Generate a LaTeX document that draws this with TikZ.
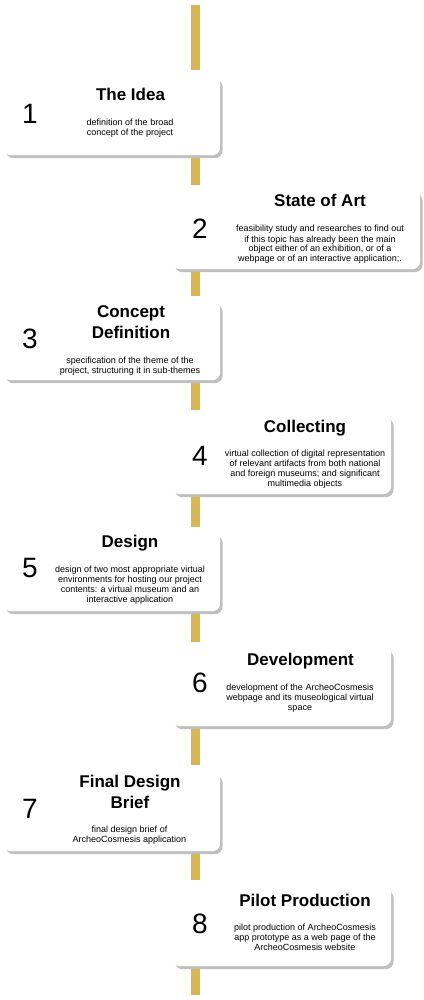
\documentclass[tikz,border=0pt]{standalone}
\usepackage{fontspec}
\setmainfont{Liberation Sans}
\usetikzlibrary{shadows}
\definecolor{gold}{HTML}{D6B656}
\newcommand{\mlines}[1]{\begin{tabular}[t]{@{}c@{}}#1\end{tabular}}
\pgfdeclarelayer{bg}
\pgfsetlayers{bg,main}
\begin{document}
\begin{tikzpicture}[x=1pt,y=-1pt,
  card/.style={draw=none, fill=white, rounded corners=8pt, anchor=north west, inner sep=0pt,
    minimum height=79pt,
    drop shadow={shadow xshift=2.5pt, shadow yshift=-3pt, fill=black!25, opacity=1}},
  bar/.style={draw=gold, line width=9pt, line cap=butt},
  num/.style={anchor=base, inner sep=0pt, font=\fontsize{28}{30}\selectfont},
  ttl/.style={anchor=base, inner sep=0pt, font=\fontsize{17}{21}\selectfont\bfseries},
  dsc/.style={anchor=base, inner sep=0pt, font=\fontsize{9}{10}\selectfont}]
\useasboundingbox (0,0) rectangle (423,1000);
\coordinate (barx) at (195.5,0);
\coordinate (top) at (195.5,5);
\coordinate (bottom) at (195.5,995);

% 1
\node[card, minimum width=217pt] (b1) at (3,76) {};
\node[num] (n1) at (30,124) {1};
\node[ttl] (t1) at (130.5,101) {The Idea};
\node[dsc] (d1) at (130,126) {\mlines{definition of the broad\\concept of the project}};

% 2
\node[card, minimum width=248pt] (b2) at (172,190) {};
\node[num] (n2) at (200,239) {2};
\node[ttl] (t2) at (320,207) {State of Art};
\node[dsc] (d2) at (320,232) {\mlines{feasibility study and researches to find out\\if this topic has already been the main\\object either of an exhibition, or of a\\webpage or of an interactive application;.}};

% 3
\node[card, minimum width=217pt] (b3) at (3,301) {};
\node[num] (n3) at (30,348) {3};
\node[ttl] (t3) at (131,317) {\mlines{Concept\\Definition}};
\node[dsc] (d3) at (130,363) {\mlines{specification of the theme of the\\project, structuring it in sub-themes}};

% 4
\node[card, minimum width=219pt] (b4) at (172,415) {};
\node[num] (n4) at (200,465) {4};
\node[ttl] (t4) at (305,432) {Collecting};
\node[dsc] (d4) at (305,456) {\mlines{virtual collection of digital representation\\of relevant artifacts from both national\\and foreign museums; and significant\\multimedia objects}};

% 5
\node[card, minimum width=217pt] (b5) at (3,532) {};
\node[num] (n5) at (30,577) {5};
\node[ttl] (t5) at (130,547) {Design};
\node[dsc] (d5) at (130,572) {\mlines{design of two most appropriate virtual\\environments for hosting our project\\contents: a virtual museum and an\\interactive application}};

% 6
\node[card, minimum width=219pt] (b6) at (172,647) {};
\node[num] (n6) at (200,692) {6};
\node[ttl] (t6) at (300.5,665) {Development};
\node[dsc] (d6) at (300,690) {\mlines{development of the ArcheoCosmesis\\webpage and its museological virtual\\space}};

% 7
\node[card, minimum width=217pt] (b7) at (3,772) {};
\node[num] (n7) at (30,818) {7};
\node[ttl] (t7) at (130,787) {\mlines{Final Design\\Brief}};
\node[dsc] (d7) at (129.5,832) {\mlines{final design brief of\\ArcheoCosmesis application}};

% 8
\node[card, minimum width=219pt] (b8) at (172,887) {};
\node[num] (n8) at (200,933) {8};
\node[ttl] (t8) at (305,906) {Pilot Production};
\node[dsc] (d8) at (305,930) {\mlines{pilot production of ArcheoCosmesis\\app prototype as a web page of the\\ArcheoCosmesis website}};

\begin{pgfonlayer}{bg}
\draw[bar] (top) -- ([yshift=6pt]b1.north -| barx);
\draw[bar] (b1.south -| barx) -- ([yshift=5pt]b2.north -| barx);
\draw[bar] (b2.south -| barx) -- ([yshift=5pt]b3.north -| barx);
\draw[bar] (b3.south -| barx) -- ([yshift=5pt]b4.north -| barx);
\draw[bar] (b4.south -| barx) -- ([yshift=5pt]b5.north -| barx);
\draw[bar] (b5.south -| barx) -- ([yshift=5pt]b6.north -| barx);
\draw[bar] (b6.south -| barx) -- ([yshift=7pt]b7.north -| barx);
\draw[bar] (b7.south -| barx) -- ([yshift=7pt]b8.north -| barx);
\draw[bar] (b8.south -| barx) -- (bottom);
\end{pgfonlayer}
\end{tikzpicture}
\end{document}
